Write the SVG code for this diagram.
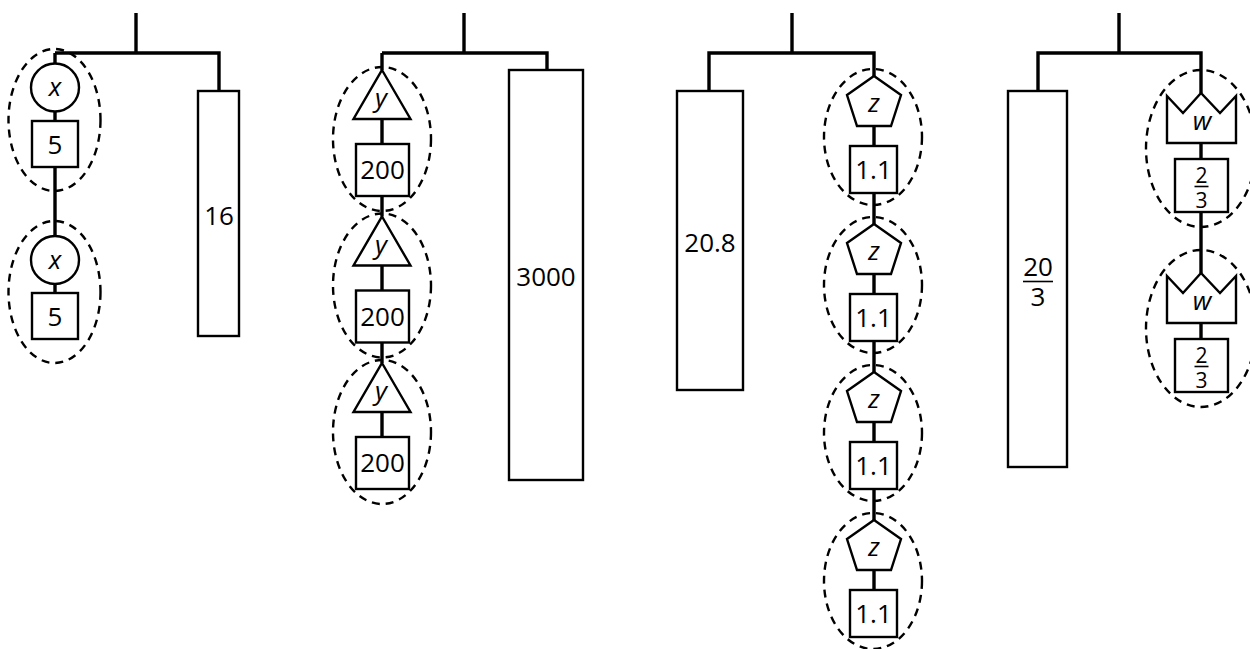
<svg xmlns="http://www.w3.org/2000/svg" width="1250" height="649" viewBox="0 0 1250 649">
<style>
.bar{fill:none;stroke:#000;stroke-width:3.4;stroke-linecap:butt;stroke-linejoin:miter}
.shape{fill:#fff;stroke:#000;stroke-width:2.4;stroke-linejoin:miter}
.group{fill:none;stroke:#000;stroke-width:2.4;stroke-dasharray:8 6}
.num{font-family:"Open Sans","Noto Sans","DejaVu Sans",sans-serif;font-size:26px;fill:#000;text-anchor:middle}
.var{font-family:"Open Sans","Noto Sans","DejaVu Sans",sans-serif;font-size:26px;font-style:italic;fill:#000;text-anchor:middle}
.frac{font-family:"Open Sans","Noto Sans","DejaVu Sans",sans-serif;font-size:21px;fill:#000;text-anchor:middle}
.fl{stroke:#000;stroke-width:1.6}
</style>
<rect width="1250" height="649" fill="#fff"/>
<g id="connectors">
<path class="bar" d="M136 13V53M55 53H219V91M55 53V63.5M55 111.5V121M55 167V236M55 284V293"/>
<path class="bar" d="M464 13V53M382 53H547V70M382 53V70M382 119V144M382 196V216.5M382 265.5V290.5M382 342.5V363M382 412V437"/>
<path class="bar" d="M792 13V53M709 91V53H874V76M874 126V146M874 193V224M874 274V294M874 341V372M874 422V442M874 489V520M874 570V590"/>
<path class="bar" d="M1119 13V53M1038 91V53H1201V93M1201 143V159M1201 212V273M1201 323V339"/>
</g>
<g id="hanger1-x1">
<circle class="shape" cx="55" cy="87.5" r="24"/>
<text class="var" x="55" y="96">x</text>
</g>
<g id="hanger1-w1">
<rect class="shape" x="32" y="121" width="46" height="46"/>
<text class="num" x="55" y="154">5</text>
</g>
<g id="hanger1-x2">
<circle class="shape" cx="55" cy="260" r="24"/>
<text class="var" x="55" y="268.5">x</text>
</g>
<g id="hanger1-w2">
<rect class="shape" x="32" y="293" width="46" height="46"/>
<text class="num" x="55" y="326">5</text>
</g>
<g id="hanger1-group1"><ellipse class="group" cx="54.5" cy="120" rx="46" ry="71"/></g>
<g id="hanger1-group2"><ellipse class="group" cx="54.5" cy="292" rx="46" ry="71"/></g>
<g id="hanger1-right">
<rect class="shape" x="198" y="91" width="41" height="245"/>
<text class="num" x="219" y="225">16</text>
</g>

<g id="hanger2-y1">
<polygon class="shape" points="382,70 410.5,119 353.5,119"/>
<text class="var" x="381" y="107">y</text>
</g>
<g id="hanger2-w1">
<rect class="shape" x="356" y="144" width="53" height="52"/>
<text class="num" x="382.5" y="179">200</text>
</g>
<g id="hanger2-y2">
<polygon class="shape" points="382,216.5 410.5,265.5 353.5,265.5"/>
<text class="var" x="381" y="253.5">y</text>
</g>
<g id="hanger2-w2">
<rect class="shape" x="356" y="290.5" width="53" height="52"/>
<text class="num" x="382.5" y="325.5">200</text>
</g>
<g id="hanger2-y3">
<polygon class="shape" points="382,363 410.5,412 353.5,412"/>
<text class="var" x="381" y="400">y</text>
</g>
<g id="hanger2-w3">
<rect class="shape" x="356" y="437" width="53" height="52"/>
<text class="num" x="382.5" y="472">200</text>
</g>
<g id="hanger2-group1"><ellipse class="group" cx="382" cy="139" rx="49" ry="72"/></g>
<g id="hanger2-group2"><ellipse class="group" cx="382" cy="285.5" rx="49" ry="72"/></g>
<g id="hanger2-group3"><ellipse class="group" cx="382" cy="432" rx="49" ry="72"/></g>
<g id="hanger2-right">
<rect class="shape" x="509" y="70" width="74" height="410"/>
<text class="num" x="546" y="286">3000</text>
</g>

<g id="hanger3-left">
<rect class="shape" x="677" y="91" width="66" height="299"/>
<text class="num" x="710" y="252">20.8</text>
</g>
<g id="hanger3-z1">
<polygon class="shape" points="874,76 901,95 891,126 857,126 847,95"/>
<text class="var" x="874" y="112">z</text>
</g>
<g id="hanger3-w1">
<rect class="shape" x="850" y="146" width="47" height="47"/>
<text class="num" x="873.5" y="179">1.1</text>
</g>
<g id="hanger3-z2">
<polygon class="shape" points="874,224 901,243 891,274 857,274 847,243"/>
<text class="var" x="874" y="260">z</text>
</g>
<g id="hanger3-w2">
<rect class="shape" x="850" y="294" width="47" height="47"/>
<text class="num" x="873.5" y="327">1.1</text>
</g>
<g id="hanger3-z3">
<polygon class="shape" points="874,372 901,391 891,422 857,422 847,391"/>
<text class="var" x="874" y="408">z</text>
</g>
<g id="hanger3-w3">
<rect class="shape" x="850" y="442" width="47" height="47"/>
<text class="num" x="873.5" y="475">1.1</text>
</g>
<g id="hanger3-z4">
<polygon class="shape" points="874,520 901,539 891,570 857,570 847,539"/>
<text class="var" x="874" y="556">z</text>
</g>
<g id="hanger3-w4">
<rect class="shape" x="850" y="590" width="47" height="47"/>
<text class="num" x="873.5" y="623">1.1</text>
</g>
<g id="hanger3-group1"><ellipse class="group" cx="873" cy="137" rx="49" ry="68"/></g>
<g id="hanger3-group2"><ellipse class="group" cx="873" cy="285" rx="49" ry="68"/></g>
<g id="hanger3-group3"><ellipse class="group" cx="873" cy="433" rx="49" ry="68"/></g>
<g id="hanger3-group4"><ellipse class="group" cx="873" cy="581" rx="49" ry="68"/></g>

<g id="hanger4-left">
<rect class="shape" x="1008" y="91" width="59" height="376"/>
<text class="num" x="1038" y="276">20</text>
<line class="fl" x1="1023" y1="281.5" x2="1053" y2="281.5"/>
<text class="num" x="1038" y="306">3</text>
</g>
<g id="hanger4-w1">
<polygon class="shape" points="1167,96 1183,113 1201,93 1220,113 1236,96 1236,143 1167,143"/>
<text class="var" x="1202" y="130">w</text>
</g>
<g id="hanger4-f1">
<rect class="shape" x="1175" y="159" width="53" height="53"/>
<text class="frac" x="1201.5" y="182.5">2</text>
<line class="fl" x1="1194.5" y1="186.5" x2="1208.5" y2="186.5"/>
<text class="frac" x="1201.5" y="207.5">3</text>
</g>
<g id="hanger4-w2">
<polygon class="shape" points="1167,276 1183,293 1201,273 1220,293 1236,276 1236,323 1167,323"/>
<text class="var" x="1202" y="310">w</text>
</g>
<g id="hanger4-f2">
<rect class="shape" x="1175" y="339" width="53" height="53"/>
<text class="frac" x="1201.5" y="362.5">2</text>
<line class="fl" x1="1194.5" y1="366.5" x2="1208.5" y2="366.5"/>
<text class="frac" x="1201.5" y="387.5">3</text>
</g>
<g id="hanger4-group1"><ellipse class="group" cx="1201" cy="148.5" rx="55" ry="78.5"/></g>
<g id="hanger4-group2"><ellipse class="group" cx="1201" cy="328.5" rx="55" ry="78.5"/></g>
</svg>
